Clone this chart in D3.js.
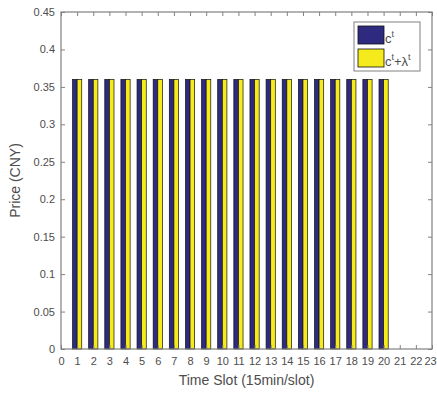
<!DOCTYPE html>
<html lang="en">
<head>
<meta charset="UTF-8">
<title>Price per time slot</title>
<style>
    body { margin: 0; padding: 0; background: #fff; }
    svg text { font-family: "Liberation Sans", Arial, sans-serif; fill: #4d4d4d; }
    .axis path, .axis line { stroke: #808080; }
</style>
</head>
<body>
<div id="chart"></div>
<script src="https://d3js.org/d3.v7.min.js"></script>
<script>
    // data
    const slots = d3.range(1, 21);
    const priceC = slots.map(() => 0.36);        // c^t
    const priceCL = slots.map(() => 0.36);       // c^t + lambda^t
    const xTicks = d3.range(0, 24);
    const yTicks = [0, 0.05, 0.1, 0.15, 0.2, 0.25, 0.3, 0.35, 0.4, 0.45];

    const width = 437, height = 394;
    const margin = { top: 12, right: 5, bottom: 45, left: 61 };
    const w = width - margin.left - margin.right;
    const h = height - margin.top - margin.bottom;

    const svg = d3.select("#chart").append("svg")
        .attr("width", width)
        .attr("height", height);

    const g = svg.append("g")
        .attr("transform", `translate(${margin.left},${margin.top})`);

    const x = d3.scaleLinear().domain([0, 23]).range([0, w]);
    const y = d3.scaleLinear().domain([0, 0.45]).range([h, 0]);

    // matlab grouped bar: 2 series -> group width 2/3.5
    const groupW = 2 / 3.5;
    const barW = groupW / 2;

    const series = [
        { values: priceC, color: "#2e2a80", offset: -barW },
        { values: priceCL, color: "#f4ea1c", offset: 0 }
    ];

    series.forEach(s => {
        g.selectAll(null)
            .data(slots)
            .enter().append("rect")
            .attr("x", (d, i) => x(d + s.offset))
            .attr("y", (d, i) => y(s.values[i]))
            .attr("width", x(barW) - x(0))
            .attr("height", (d, i) => y(0) - y(s.values[i]))
            .attr("fill", s.color)
            .attr("stroke", "#111")
            .attr("stroke-width", 0.7);
    });

    // axes with inward ticks (box on)
    const tickLen = 4;
    const fmtY = d => d === 0 ? "0" : String(+d.toFixed(2));

    g.append("g").attr("class", "axis")
        .attr("transform", `translate(0,${h})`)
        .call(d3.axisBottom(x).tickValues(xTicks).tickSize(-tickLen).tickPadding(8).tickFormat(d3.format("d")))
        .call(a => a.selectAll("text").attr("font-size", 11))
        .call(a => a.selectAll(".tick:last-of-type text").attr("dx", -2));

    g.append("g").attr("class", "axis")
        .call(d3.axisTop(x).tickValues(xTicks).tickSize(-tickLen).tickFormat(""));

    g.append("g").attr("class", "axis")
        .call(d3.axisLeft(y).tickValues(yTicks).tickSize(-tickLen).tickPadding(6).tickFormat(fmtY))
        .call(a => a.selectAll("text").attr("font-size", 11));

    g.append("g").attr("class", "axis")
        .attr("transform", `translate(${w},0)`)
        .call(d3.axisRight(y).tickValues(yTicks).tickSize(-tickLen).tickFormat(""));

    g.selectAll(".axis .domain").remove();
    g.append("rect")
        .attr("width", w).attr("height", h)
        .attr("fill", "none").attr("stroke", "#808080").attr("stroke-width", 1.2);

    // axis labels
    svg.append("text")
        .attr("x", margin.left + w / 2)
        .attr("y", height - 9)
        .attr("text-anchor", "middle")
        .attr("font-size", 14)
        .text("Time Slot (15min/slot)");

    svg.append("text")
        .attr("transform", `translate(20,${margin.top + h / 2}) rotate(-90)`)
        .attr("text-anchor", "middle")
        .attr("font-size", 14)
        .text("Price (CNY)");

    // legend
    const lg = svg.append("g").attr("transform", "translate(354,22)");
    lg.append("rect").attr("width", 66).attr("height", 49)
        .attr("fill", "#fff").attr("stroke", "#808080").attr("stroke-width", 1);
    lg.append("rect").attr("x", 4).attr("y", 4).attr("width", 26).attr("height", 18)
        .attr("fill", series[0].color).attr("stroke", "#111").attr("stroke-width", 0.8);
    lg.append("rect").attr("x", 4).attr("y", 27).attr("width", 26).attr("height", 18)
        .attr("fill", series[1].color).attr("stroke", "#111").attr("stroke-width", 0.8);

    const t1 = lg.append("text").attr("x", 31).attr("y", 21).attr("font-size", 13).attr("fill", "#222");
    t1.append("tspan").text("c");
    t1.append("tspan").attr("dy", -6).attr("font-size", 9).text("t");

    const t2 = lg.append("text").attr("x", 31).attr("y", 44).attr("font-size", 13).attr("fill", "#222");
    t2.append("tspan").text("c");
    t2.append("tspan").attr("dy", -6).attr("font-size", 9).text("t");
    t2.append("tspan").attr("dy", 6).text("+λ");
    t2.append("tspan").attr("dy", -6).attr("font-size", 9).text("t");
</script>
</body>
</html>
